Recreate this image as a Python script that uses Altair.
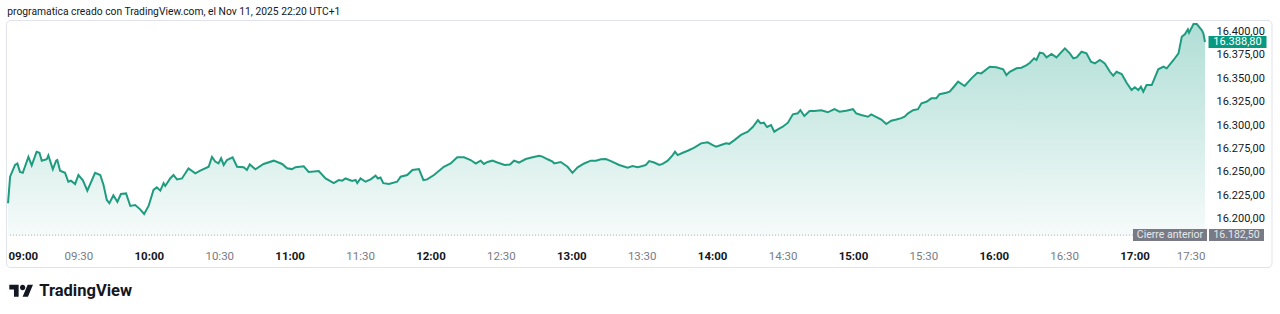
import altair as alt
import pandas as pd

# ---- data (minutes after 09:00, index level) ----
minutes = [
    0.0, 0.9, 3.0, 4.0, 5.1, 6.3, 8.7, 10.1, 12.2, 13.4,
    14.4, 16.5, 17.2, 19.1, 20.5, 21.0, 22.2, 24.3, 25.7, 26.8,
    28.6, 30.0, 31.9, 33.8, 37.1, 39.3, 40.7, 42.1, 43.2, 44.9,
    46.6, 48.1, 50.3, 52.1, 54.2, 56.3, 58.0, 59.9, 62.0, 63.4,
    64.9, 66.3, 67.0, 69.1, 70.5, 72.0, 74.1, 76.9, 79.8, 81.9,
    85.5, 86.9, 88.3, 89.7, 90.8, 91.9, 93.3, 95.7, 97.6, 100.4,
    101.8, 103.0, 105.4, 108.9, 113.2, 116.8, 118.9, 121.0, 122.5, 126.0,
    128.1, 132.4, 135.3, 138.8, 140.9, 142.4, 143.8, 146.6, 148.1, 148.8,
    150.2, 152.3, 154.5, 156.6, 157.6, 158.7, 159.9, 162.3, 165.8, 167.3,
    170.1, 172.3, 175.1, 177.0, 178.6, 181.5, 185.7, 188.6, 191.4, 194.3,
    197.1, 199.3, 201.4, 202.8, 204.3, 206.4, 208.5, 211.6, 213.9, 215.6,
    217.7, 220.6, 223.5, 226.3, 227.7, 229.9, 232.0, 232.7, 235.5, 238.4,
    240.5, 242.7, 245.5, 248.3, 250.5, 252.6, 254.7, 256.9, 260.4, 264.0,
    266.1, 268.3, 270.4, 271.8, 273.2, 275.3, 277.5, 278.9, 281.1, 283.2,
    284.2, 285.3, 287.5, 289.6, 292.4, 295.3, 298.1, 300.3, 301.7, 303.8,
    305.9, 307.3, 309.5, 312.3, 315.2, 317.3, 319.5, 320.6, 322.0, 323.4,
    325.1, 326.5, 328.0, 330.1, 332.3, 334.4, 336.5, 337.6, 339.3, 341.5,
    343.6, 346.5, 349.3, 352.1, 354.3, 357.1, 360.0, 361.4, 363.5, 366.4,
    367.8, 369.2, 372.1, 374.2, 376.3, 378.5, 380.6, 382.0, 383.5, 385.6,
    387.7, 389.2, 391.3, 393.4, 395.5, 396.9, 399.8, 401.2, 403.3, 404.8,
    407.6, 410.5, 413.0, 414.7, 418.3, 421.1, 424.0, 425.4, 426.8, 429.7,
    431.8, 434.0, 435.4, 437.2, 438.2, 439.6, 441.1, 442.5, 444.6, 446.7,
    450.3, 452.4, 453.9, 455.3, 457.4, 459.5, 461.4, 463.1, 465.2, 467.3,
    469.5, 470.9, 472.3, 474.5, 476.6, 478.7, 480.1, 481.6, 482.7, 483.7,
    485.1, 487.3, 490.1, 492.3, 493.7, 496.6, 498.7, 500.1, 501.5, 502.7,
    503.2, 505.1, 506.5, 508.6, 509.3, 510.0,
]
prices = [
    16216.5, 16244.9, 16257.4, 16259.0, 16250.0, 16249.0, 16266.0, 16257.0, 16271.6, 16270.5,
    16262.0, 16263.5, 16267.7, 16252.8, 16262.0, 16262.7, 16251.3, 16249.0, 16239.5, 16240.6,
    16237.0, 16246.7, 16241.0, 16230.0, 16249.0, 16246.7, 16236.0, 16220.0, 16216.5, 16225.0,
    16218.0, 16226.4, 16227.0, 16213.6, 16214.6, 16210.0, 16205.0, 16213.6, 16230.7, 16233.5,
    16230.0, 16238.0, 16235.0, 16243.0, 16246.7, 16242.0, 16243.0, 16253.8, 16248.5, 16251.3,
    16255.5, 16266.0, 16261.0, 16259.0, 16264.5, 16257.4, 16262.7, 16265.6, 16255.5, 16255.0,
    16252.0, 16258.0, 16252.8, 16258.5, 16262.0, 16258.5, 16253.8, 16253.0, 16255.0, 16256.0,
    16250.0, 16251.0, 16243.0, 16238.0, 16241.3, 16240.6, 16243.0, 16240.3, 16241.3, 16238.0,
    16243.0, 16239.5, 16242.0, 16246.0, 16243.0, 16244.0, 16238.0, 16237.0, 16239.5, 16244.9,
    16246.7, 16252.0, 16253.0, 16241.3, 16242.0, 16246.7, 16255.5, 16259.0, 16265.6, 16265.6,
    16262.7, 16259.0, 16262.0, 16258.5, 16260.6, 16262.0, 16260.0, 16257.4, 16258.0, 16262.0,
    16260.0, 16263.8, 16265.6, 16267.3, 16266.3, 16263.5, 16261.0, 16259.0, 16260.6, 16255.5,
    16249.0, 16254.9, 16259.0, 16262.0, 16262.0, 16263.6, 16263.8, 16261.6, 16257.4, 16254.5,
    16256.3, 16255.0, 16256.3, 16257.4, 16261.6, 16260.0, 16257.4, 16258.5, 16262.0, 16268.0,
    16271.6, 16268.0, 16270.5, 16272.6, 16276.0, 16280.5, 16281.6, 16278.7, 16277.0, 16278.7,
    16280.5, 16280.0, 16284.0, 16289.5, 16293.0, 16298.0, 16305.4, 16302.0, 16302.6, 16298.0,
    16300.0, 16293.0, 16295.5, 16298.3, 16302.6, 16311.5, 16312.6, 16316.0, 16309.7, 16315.0,
    16315.0, 16315.8, 16313.7, 16317.0, 16314.3, 16315.4, 16317.0, 16312.6, 16310.8, 16309.0,
    16311.5, 16309.7, 16306.0, 16301.2, 16304.7, 16306.0, 16307.5, 16309.0, 16312.6, 16316.0,
    16317.0, 16323.3, 16325.0, 16328.6, 16328.6, 16333.0, 16334.6, 16335.7, 16341.8, 16346.4,
    16341.8, 16350.0, 16356.0, 16355.3, 16362.4, 16361.8, 16359.6, 16353.5, 16357.0, 16360.7,
    16361.4, 16364.2, 16366.7, 16371.4, 16369.6, 16377.4, 16376.7, 16372.4, 16376.0, 16372.4,
    16382.0, 16376.7, 16371.4, 16372.4, 16378.4, 16376.7, 16367.7, 16366.0, 16369.6, 16366.0,
    16357.0, 16352.8, 16357.0, 16354.6, 16345.3, 16337.5, 16340.4, 16337.5, 16341.0, 16335.7,
    16342.8, 16342.8, 16359.6, 16362.4, 16360.7, 16369.6, 16376.7, 16394.4, 16397.3, 16402.3,
    16398.7, 16408.0, 16408.0, 16401.6, 16398.0, 16388.8,
]
x_tick_minutes = [0, 30, 60, 90, 120, 150, 180, 210, 240, 270, 300, 330,
                  360, 390, 420, 450, 480, 510]
y_ticks = [16200, 16225, 16250, 16275, 16300, 16325, 16350, 16375, 16400]
title_text = "programatica creado con TradingView.com, el Nov 11, 2025 22:20 UTC+1"
brand_text = "TradingView"
prev_close_label = "Cierre anterior"
last_price = 16388.80
prev_close = 16182.50
y_floor = 16181.5


def es_fmt(v):
    return f"{v:,.2f}".replace(",", "X").replace(".", ",").replace("X", ".")


FONT = "Roboto"
GREEN = "#089981"
LINE = "#1f9c80"
W, H = 1197, 214

df = pd.DataFrame({"m": minutes, "p": prices})

x_scale = alt.Scale(domain=[0, 510], nice=False, zero=False)
y_scale = alt.Scale(domain=[y_floor, 16410.2], nice=False, zero=False)

x_axis = alt.Axis(
    values=x_tick_minutes,
    labelExpr="(floor(datum.value/60)+9 < 10 ? '0' : '') + (floor(datum.value/60)+9) + ':' + (datum.value % 60 == 0 ? '00' : '30')",
    labelFontWeight={"expr": "datum.value % 60 == 0 ? 'bold' : 'normal'"},
    labelColor={"expr": "datum.value % 60 == 0 ? '#131722' : '#787b86'"},
    labelFont=FONT, labelFontSize=11.5, labelPadding=20, labelBaseline="middle",
    labelFlush=True, labelOverlap=False, domain=False, ticks=False, tickSize=0,
    grid=False, title=None,
)
y_axis = alt.Axis(
    orient="right", values=y_ticks,
    labelExpr="replace(replace(replace(format(datum.value, ',.2f'), ',', 'X'), '.', ','), 'X', '.')",
    labelFont=FONT, labelFontSize=11, labelColor="#131722", labelPadding=11,
    labelAlign="left", labelOverlap=False, domain=False, ticks=False, tickSize=0,
    grid=False, title=None,
)

X = alt.X("m:Q", scale=x_scale, axis=x_axis)
Y = alt.Y("p:Q", scale=y_scale, axis=y_axis)

gradient = alt.Gradient(
    gradient="linear",
    stops=[alt.GradientStop(color="#b0ded6", offset=0),
           alt.GradientStop(color="#f6fbfa", offset=1)],
    x1=0, x2=0, y1=0, y2=1,
)

one = pd.DataFrame({"a": [0]})

border = alt.Chart(one).mark_rect(
    fillOpacity=0, stroke="#e0e3eb", strokeWidth=1, cornerRadius=4
).encode(x=alt.value(-1.5), x2=alt.value(1264), y=alt.value(-1.5), y2=alt.value(245.5))

area = alt.Chart(df).transform_calculate(base=str(y_floor)).mark_area(
    fill=gradient, interpolate="linear").encode(x=X, y=Y, y2="base:Q")

prev_df = pd.DataFrame({"p": [prev_close], "txt": [es_fmt(prev_close)], "lab": [prev_close_label]})
rule = alt.Chart(prev_df).mark_rule(
    color="#b2b5be", strokeDash=[1, 2], strokeWidth=1).encode(y=Y)

line = alt.Chart(df).mark_line(color=LINE, strokeWidth=2, interpolate="linear").encode(x=X, y=Y)


def box_path(w, h):
    r = h / w
    return f"M-1,-{r:.4f}H1V{r:.4f}H-1Z"


last_df = pd.DataFrame({"p": [last_price], "txt": [es_fmt(last_price)]})
last_box = alt.Chart(last_df).mark_point(
    shape=box_path(58, 12), size=58 ** 2, filled=True, color=GREEN, opacity=1
).encode(x=alt.value(1229.5), y=Y)
last_txt = alt.Chart(last_df).mark_text(
    font=FONT, fontSize=11, color="white", align="center", baseline="middle"
).encode(x=alt.value(1229.5), y=Y, text="txt:N")

prev_box1 = alt.Chart(prev_df).mark_point(
    shape=box_path(74, 12), size=74 ** 2, filled=True, color="#787b86", opacity=1
).encode(x=alt.value(1162), y=Y)
prev_box2 = alt.Chart(prev_df).mark_point(
    shape=box_path(55, 12), size=55 ** 2, filled=True, color="#787b86", opacity=1
).encode(x=alt.value(1228.5), y=Y)
prev_txt1 = alt.Chart(prev_df).mark_text(
    font=FONT, fontSize=10.5, color="#e6e7eb", align="center", baseline="middle"
).encode(x=alt.value(1162), y=Y, text="lab:N")
prev_txt2 = alt.Chart(prev_df).mark_text(
    font=FONT, fontSize=10.5, color="#e6e7eb", align="center", baseline="middle"
).encode(x=alt.value(1228.5), y=Y, text="txt:N")

title = alt.Chart(pd.DataFrame({"t": [title_text]})).mark_text(
    font=FONT, fontSize=10.3, color="#131722", align="left", baseline="middle"
).encode(x=alt.value(-0.7), y=alt.value(-9.7), text="t:N")

logo_path = ("M-0.222,0.5H-0.611V-0.111H-1V-0.5H-0.222Z "
             "M0.111,-0.5A0.222,0.222,0,1,1,0.111,-0.056A0.222,0.222,0,1,1,0.111,-0.5Z "
             "M0.556,0.5H0.111L0.528,-0.5H0.972Z")
logo = alt.Chart(one).mark_point(
    shape=logo_path, size=24 ** 2, filled=True, color="#131722", opacity=1
).encode(x=alt.value(13.3), y=alt.value(268.8))
brand = alt.Chart(pd.DataFrame({"t": [brand_text]})).mark_text(
    font=FONT, fontSize=16.5, fontWeight="bold", color="#131722",
    align="left", baseline="middle"
).encode(x=alt.value(31.3), y=alt.value(269), text="t:N")

chart = alt.layer(
    border, area, rule, line, last_box, last_txt,
    prev_box1, prev_box2, prev_txt1, prev_txt2, title, logo, brand,
).properties(
    width=W, height=H,
    padding={"left": 8, "top": 22, "right": 75, "bottom": 78},
    autosize=alt.AutoSizeParams(type="none"),
    background="white",
).configure_view(stroke=None)

chart.save("out.html", embed_options={"renderer": "svg", "actions": False})
